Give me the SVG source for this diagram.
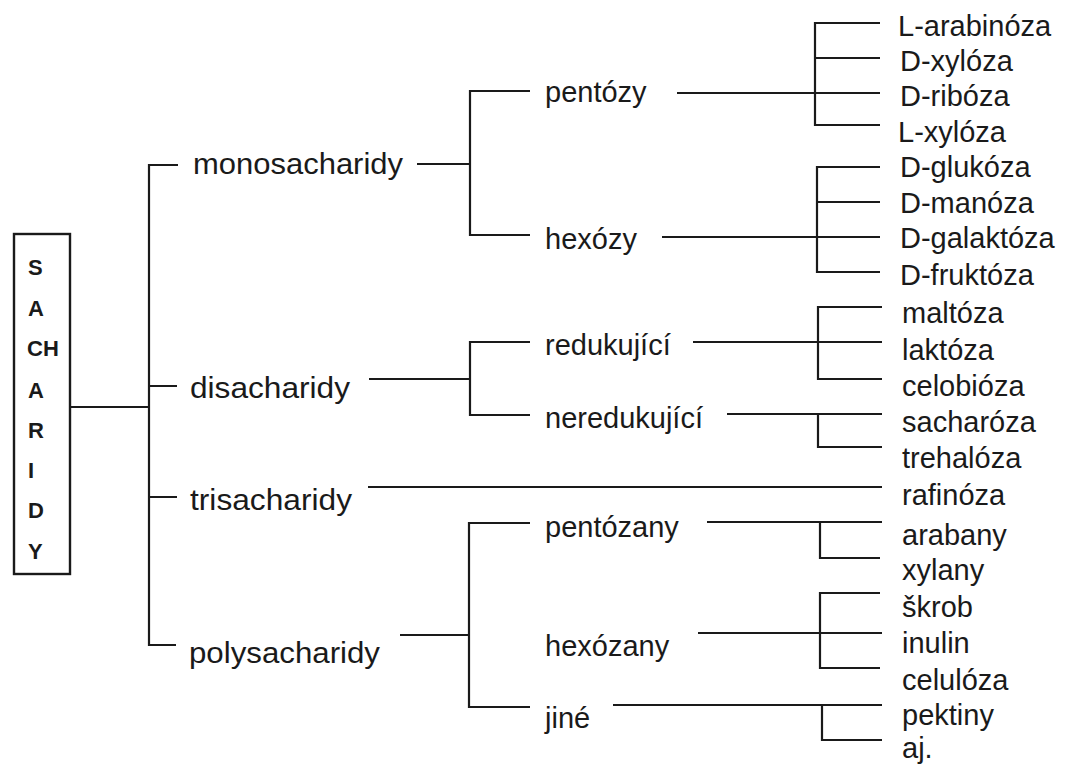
<svg xmlns="http://www.w3.org/2000/svg" width="1067" height="769" viewBox="0 0 1067 769">
<style>
.t{font-family:"Liberation Sans",Arial,sans-serif;font-size:29px;fill:#1a1a1a}
.l{font-size:30px}
.b{font-family:"Liberation Sans",Arial,sans-serif;font-size:22px;font-weight:bold;fill:#1a1a1a}
.c{stroke:#1a1a1a;stroke-width:2.2;fill:none}
</style>
<rect width="1067" height="769" fill="#fff"/>
<g id="connectors" class="c">
<path d="M71 407H148M178 165H149V645H176"/>
<path d="M148 386H177M148 497H177"/>
<path d="M417 164H470M530 91H470V235H530"/>
<path d="M677 93H880M880 23H815V125H880M815 58H880"/>
<path d="M662 237H880M880 167H817V272H880M817 202H880"/>
<path d="M369 379H470M530 342H470V415H530"/>
<path d="M693 342H882M882 307H818V379H882"/>
<path d="M727 414H882M818 414V447H882"/>
<path d="M368 487H882"/>
<path d="M400 635H469M530 523H469V707H530"/>
<path d="M707 522H882M820 522V558H880"/>
<path d="M698 633H882M880 593H820V668H880"/>
<path d="M613 705H882M822 705V740H882"/>
</g>
<g id="sacharidy">
<rect x="14" y="234" width="56" height="340" fill="none" stroke="#1a1a1a" stroke-width="2.4"/>
<text class="b" x="28" y="275">S</text>
<text class="b" x="28" y="316">A</text>
<text class="b" x="27" y="356">CH</text>
<text class="b" x="28" y="398">A</text>
<text class="b" x="28" y="438">R</text>
<text class="b" x="28" y="478">I</text>
<text class="b" x="28" y="518">D</text>
<text class="b" x="28" y="559">Y</text>
</g>
<g id="monosacharidy"><text class="t l" x="193" y="174" textLength="210" lengthAdjust="spacingAndGlyphs">monosacharidy</text></g>
<g id="disacharidy"><text class="t l" x="190" y="398" textLength="160" lengthAdjust="spacingAndGlyphs">disacharidy</text></g>
<g id="trisacharidy"><text class="t l" x="190" y="510" textLength="162" lengthAdjust="spacingAndGlyphs">trisacharidy</text></g>
<g id="polysacharidy"><text class="t l" x="189" y="663" textLength="191" lengthAdjust="spacingAndGlyphs">polysacharidy</text></g>
<g id="pentozy"><text class="t" x="545" y="102">pentózy</text></g>
<g id="hexozy"><text class="t" x="545" y="249">hexózy</text></g>
<g id="redukujici"><text class="t" x="545" y="355">redukující</text></g>
<g id="neredukujici"><text class="t" x="545" y="428">neredukující</text></g>
<g id="pentozany"><text class="t" x="545" y="537">pentózany</text></g>
<g id="hexozany"><text class="t" x="545" y="656">hexózany</text></g>
<g id="jine"><text class="t" x="545" y="728">jiné</text></g>
<g id="l-arabinoza"><text class="t" x="898" y="36">L-arabinóza</text></g>
<g id="d-xyloza"><text class="t" x="900" y="71">D-xylóza</text></g>
<g id="d-riboza"><text class="t" x="900" y="106">D-ribóza</text></g>
<g id="l-xyloza"><text class="t" x="898" y="142">L-xylóza</text></g>
<g id="d-glukoza"><text class="t" x="900" y="177">D-glukóza</text></g>
<g id="d-manoza"><text class="t" x="900" y="213">D-manóza</text></g>
<g id="d-galaktoza"><text class="t" x="900" y="248">D-galaktóza</text></g>
<g id="d-fruktoza"><text class="t" x="900" y="285">D-fruktóza</text></g>
<g id="maltoza"><text class="t" x="902" y="323">maltóza</text></g>
<g id="laktoza"><text class="t" x="902" y="360">laktóza</text></g>
<g id="celobioza"><text class="t" x="902" y="396">celobióza</text></g>
<g id="sacharoza"><text class="t" x="902" y="432">sacharóza</text></g>
<g id="trehaloza"><text class="t" x="902" y="468">trehalóza</text></g>
<g id="rafinoza"><text class="t" x="902" y="505">rafinóza</text></g>
<g id="arabany"><text class="t" x="902" y="545">arabany</text></g>
<g id="xylany"><text class="t" x="902" y="580">xylany</text></g>
<g id="skrob"><text class="t" x="902" y="617">škrob</text></g>
<g id="inulin"><text class="t" x="902" y="653">inulin</text></g>
<g id="celuloza"><text class="t" x="902" y="690">celulóza</text></g>
<g id="pektiny"><text class="t" x="902" y="725">pektiny</text></g>
<g id="aj"><text class="t" x="902" y="758">aj.</text></g>
</svg>
